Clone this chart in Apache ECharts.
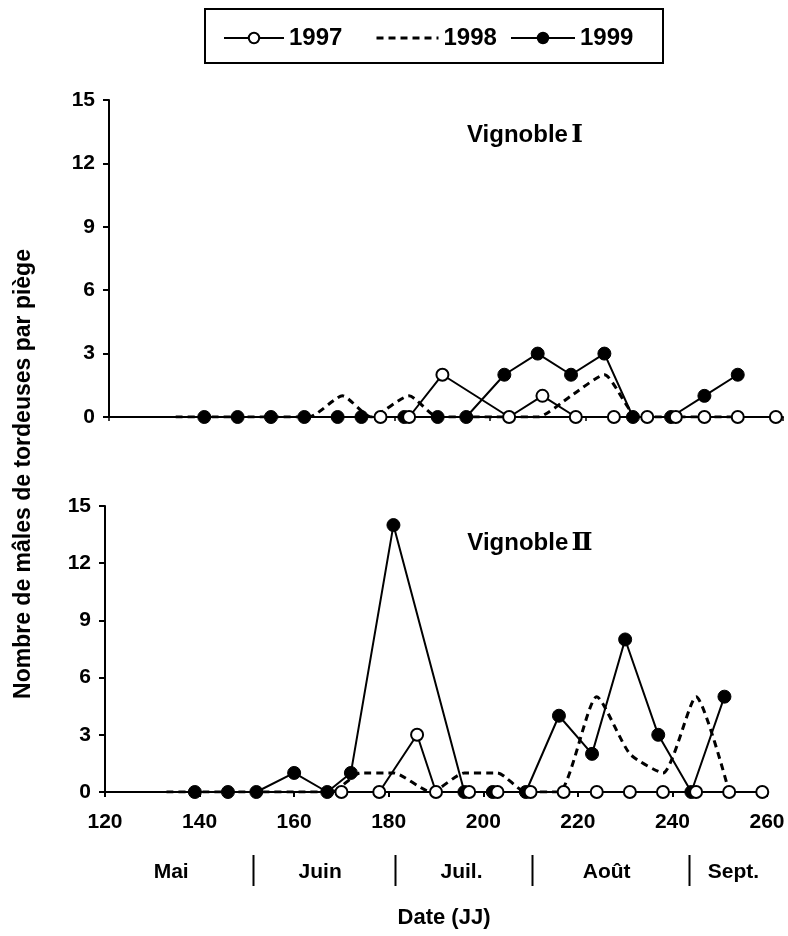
<!DOCTYPE html>
<html><head><meta charset="utf-8">
<script src="https://cdn.jsdelivr.net/npm/echarts@6/dist/echarts.min.js"></script>
<style>html,body{margin:0;padding:0;background:#fff}#c{width:788px;height:936px}</style>
</head><body><div id="c"></div>
<script>
// ---- data ----
const yearNames = ['1997', '1998', '1999'];
const xTicksInterval = 20;
const yTicksInterval = 3;

// Vignoble I
const v1Days1997 = [177, 183, 190, 204, 211, 218, 226, 233, 239, 245, 252, 260];
const v1Vals1997 = [0, 0, 2, 0, 1, 0, 0, 0, 0, 0, 0, 0];
const v1Days1998 = [134, 141, 148, 155, 162, 169, 175, 183, 189, 196, 203, 210, 217, 224, 231, 238, 245, 252];
const v1Vals1998 = [0, 0, 0, 0, 0, 1, 0, 1, 0, 0, 0, 0, 1, 2, 0, 0, 0, 0];
const v1Days1999 = [140, 147, 154, 161, 168, 173, 182, 189, 195, 203, 210, 217, 224, 230, 238, 245, 252];
const v1Vals1999 = [0, 0, 0, 0, 0, 0, 0, 0, 0, 2, 3, 2, 3, 0, 0, 1, 2];

// Vignoble II
const v2Days1997 = [170, 178, 186, 190, 197, 203, 210, 217, 224, 231, 238, 245, 252, 259];
const v2Vals1997 = [0, 0, 3, 0, 0, 0, 0, 0, 0, 0, 0, 0, 0, 0];
const v2Days1998 = [133, 140, 147, 154, 161, 168, 174, 181, 189, 196, 203, 209, 216, 224, 231, 238, 245, 252];
const v2Vals1998 = [0, 0, 0, 0, 0, 0, 1, 1, 0, 1, 1, 0, 0, 5, 2, 1, 5, 0];
const v2Days1999 = [139, 146, 152, 160, 167, 172, 181, 196, 202, 209, 216, 223, 230, 237, 244, 251];
const v2Vals1999 = [0, 0, 0, 1, 0, 1, 14, 0, 0, 0, 4, 2, 8, 3, 0, 5];

const months = ['Mai', 'Juin', 'Juil.', 'Août', 'Sept.'];
const monthCenters = [134, 165.5, 195.4, 226.1, 252.9];
const monthBreaks = [151.2, 181.3, 210.4, 243.6];

// ---- chart ----
const FONT = '"Liberation Sans", Arial, sans-serif';
const pairs = (d, v) => d.map((x, i) => [x, v[i]]);

function mkSeries(idx, d97, v97, d98, v98, d99, v99) {
  return [
    {
      name: '1999', type: 'line', xAxisIndex: idx, yAxisIndex: idx, z: 3,
      data: pairs(d99, v99), symbol: 'circle', symbolSize: 13,
      lineStyle: { color: '#000', width: 2 },
      itemStyle: { color: '#000', borderColor: '#000', borderWidth: 1 }
    },
    {
      name: '1998', type: 'line', xAxisIndex: idx, yAxisIndex: idx, z: 2,
      data: pairs(d98, v98), showSymbol: false, symbol: 'none', smooth: 0.2,
      lineStyle: { color: '#000', width: 3, type: [7, 5] },
      itemStyle: { color: '#000' }
    },
    {
      name: '1997', type: 'line', xAxisIndex: idx, yAxisIndex: idx, z: 4,
      data: pairs(d97, v97), symbol: 'circle', symbolSize: 12,
      lineStyle: { color: '#000', width: 2 },
      itemStyle: { color: '#fff', borderColor: '#000', borderWidth: 2 }
    }
  ];
}

const axisLabelStyle = { color: '#000', fontSize: 21, fontWeight: 'bold', fontFamily: FONT };
function yAx(idx) {
  return {
    type: 'value', gridIndex: idx, min: 0, max: 15, interval: yTicksInterval,
    axisLine: { show: true, lineStyle: { color: '#000', width: 2 } },
    axisTick: { show: true, length: 6, lineStyle: { color: '#000', width: 2 } },
    axisLabel: Object.assign({ margin: 14 }, axisLabelStyle),
    splitLine: { show: false }
  };
}

const chart = echarts.init(document.getElementById('c'), null, { renderer: 'canvas' });

const legendCommon = {
  orient: 'horizontal', padding: 0, itemHeight: 13,
  textStyle: { color: '#000', fontSize: 24, fontWeight: 'bold', fontFamily: FONT },
  selectedMode: false
};

chart.setOption({
  animation: false,
  backgroundColor: '#fff',
  legend: [
    Object.assign({}, legendCommon, { data: ['1997'], left: 223, top: 26, itemWidth: 60 }),
    Object.assign({}, legendCommon, {
      data: ['1998'], left: 375, top: 26, itemWidth: 62,
      itemStyle: { color: 'rgba(0,0,0,0)', borderColor: 'rgba(0,0,0,0)', borderWidth: 0 },
      lineStyle: { width: 3, type: [7, 5], color: '#000' }
    }),
    Object.assign({}, legendCommon, { data: ['1999'], left: 510, top: 26, itemWidth: 64 })
  ],
  grid: [
    { left: 109, top: 100, width: 674, height: 317 },
    { left: 105, top: 506, width: 662, height: 286 }
  ],
  xAxis: [
    {
      type: 'value', gridIndex: 0, min: 120, max: 261.5, interval: xTicksInterval,
      axisLine: { show: true, onZero: false, lineStyle: { color: '#000', width: 2 } },
      axisTick: { show: true, length: 4, lineStyle: { color: '#000', width: 1.5 } },
      axisLabel: { show: false }, splitLine: { show: false }
    },
    {
      type: 'value', gridIndex: 1, min: 120, max: 260, interval: xTicksInterval,
      axisLine: { show: true, onZero: false, lineStyle: { color: '#000', width: 2 } },
      axisTick: { show: true, length: 5, lineStyle: { color: '#000', width: 2 } },
      axisLabel: Object.assign({ margin: 20 }, axisLabelStyle), splitLine: { show: false }
    }
  ],
  yAxis: [yAx(0), yAx(1)],
  series: [
    ...mkSeries(0, v1Days1997, v1Vals1997, v1Days1998, v1Vals1998, v1Days1999, v1Vals1999),
    ...mkSeries(1, v2Days1997, v2Vals1997, v2Days1998, v2Vals1998, v2Days1999, v2Vals1999)
  ]
});

// decorations positioned through the axis scale
const px = d => chart.convertToPixel({ xAxisIndex: 1 }, d);
const txt = (text, x, y, size, extra) => Object.assign({
  type: 'text', x: x, y: y,
  style: { text: text, fill: '#000', font: 'bold ' + size + 'px ' + FONT, textAlign: 'center', textVerticalAlign: 'middle' }
}, extra || {});

const titleRich = {
  a: { fontSize: 24, fontWeight: 'bold', fontFamily: FONT, fill: '#000' },
  s: { fontSize: 12, fontFamily: FONT },
  b: { fontSize: 25, fontWeight: 'bold', fontFamily: '"DejaVu Serif", "Liberation Serif", serif', fill: '#000' }
};

const graphics = [
  { type: 'rect', shape: { x: 205, y: 9, width: 458, height: 54 }, style: { fill: 'none', stroke: '#000', lineWidth: 2 }, silent: true },
  {
    type: 'text', x: 525, y: 135,
    style: { text: '{a|Vignoble}{s| }{b|Ⅰ}', textAlign: 'center', textVerticalAlign: 'middle', rich: titleRich }
  },
  {
    type: 'text', x: 530, y: 543,
    style: { text: '{a|Vignoble}{s| }{b|Ⅱ}', textAlign: 'center', textVerticalAlign: 'middle', rich: titleRich }
  },
  txt('Date (JJ)', 444, 918, 22),
  txt('Nombre de mâles de tordeuses par piège', 24, 474, 23, { rotation: Math.PI / 2 })
];
months.forEach((m, i) => graphics.push(txt(m, px(monthCenters[i]), 872, 21)));
monthBreaks.forEach(b => {
  const x = Math.round(px(b)) + 0.5;
  graphics.push({ type: 'line', shape: { x1: x, y1: 855, x2: x, y2: 886 }, style: { stroke: '#000', lineWidth: 2 } });
});
chart.setOption({ graphic: graphics });
</script>
</body></html>
